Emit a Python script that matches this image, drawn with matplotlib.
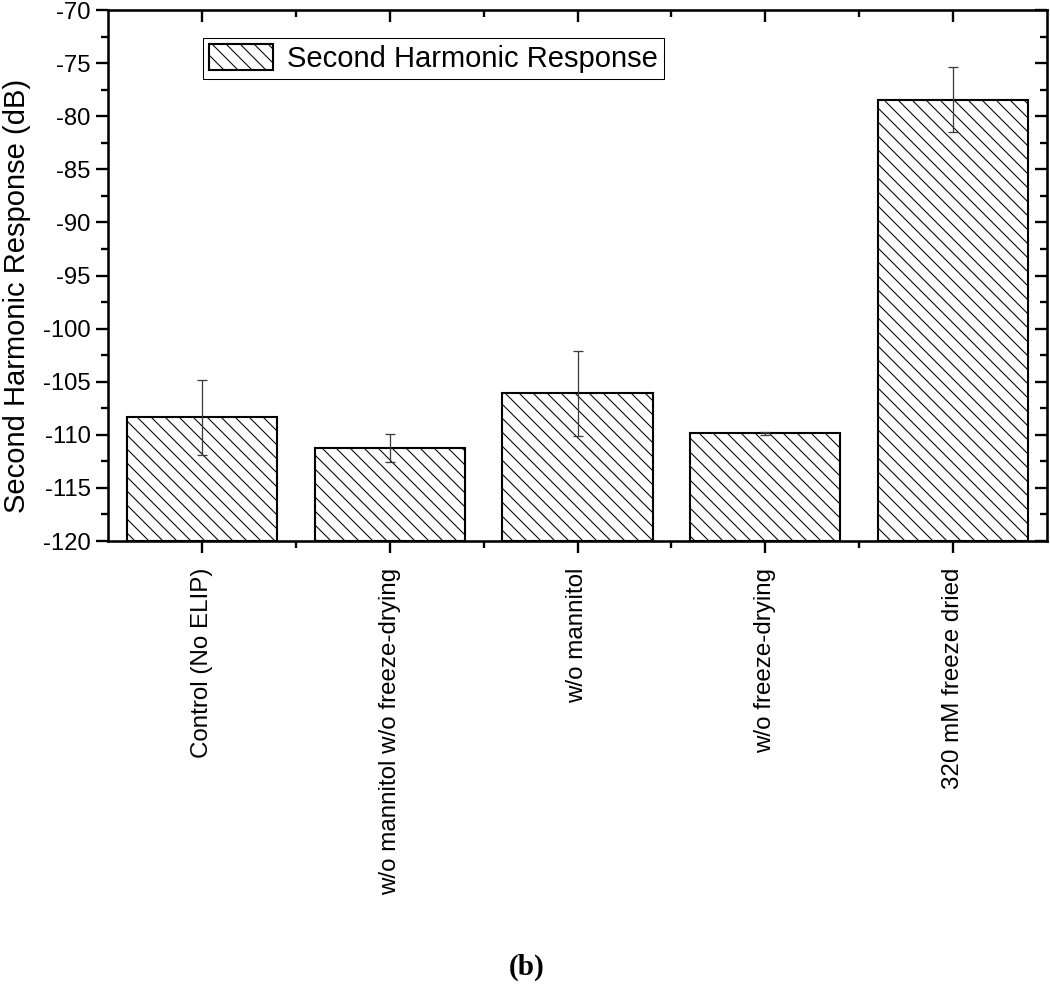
import matplotlib
matplotlib.use("Agg")
import matplotlib.pyplot as plt
from matplotlib.ticker import MultipleLocator, FixedLocator
import numpy as np

categories = ["Control (No ELIP)", "w/o mannitol w/o freeze-drying", "w/o mannitol",
              "w/o freeze-drying", "320 mM freeze dried"]
values = [-108.35, -111.25, -106.1, -109.85, -78.45]
errors = [3.55, 1.3, 4.0, 0.15, 3.05]
series_name = "Second Harmonic Response"
ylabel = "Second Harmonic Response (dB)"
panel = "(b)"

DPI = 84
plt.rcParams['font.family'] = ['Liberation Sans', 'DejaVu Sans']
plt.rcParams['axes.unicode_minus'] = False
plt.rcParams['hatch.linewidth'] = 0.9
plt.rcParams['hatch.color'] = 'black'

fig = plt.figure(figsize=(1050 / DPI, 996 / DPI), dpi=DPI)
ax = fig.add_axes([108 / 1050, 1 - 541 / 996, 939 / 1050, 531 / 996])

x = np.arange(1, len(categories) + 1)
ax.bar(x, [v - (-120) for v in values], bottom=-120, width=0.8, color='white',
       edgecolor='black', linewidth=1.8, hatch='\\\\', label=series_name, zorder=2)
ax.errorbar(x, values, yerr=errors, fmt='none', ecolor='#3a3a3a', elinewidth=1.1,
            capsize=4.7, capthick=1.1, zorder=3)

ax.set_xlim(0.5, 5.5)
ax.set_ylim(-120, -70)
ax.yaxis.set_major_locator(MultipleLocator(5))
ax.yaxis.set_minor_locator(MultipleLocator(2.5))
ax.set_xticks(x)
ax.set_xticklabels(categories, rotation=90, fontsize=20.7, va='top')
ax.xaxis.set_minor_locator(FixedLocator(x[:-1] + 0.5))
ax.tick_params(axis='y', labelsize=20.5)

for s in ax.spines.values():
    s.set_linewidth(2.2)

ax.tick_params(which='major', length=10, width=2, direction='out', pad=5)
ax.tick_params(which='minor', length=6, width=2, direction='out')
ax.tick_params(axis='x', which='major', pad=13)
ax.tick_params(which='both', top=True, right=True)
# top and right ticks pointing inward
for t in ax.xaxis.get_major_ticks() + ax.xaxis.get_minor_ticks():
    t.tick2line.set_marker(matplotlib.lines.TICKDOWN)
for t in ax.yaxis.get_major_ticks() + ax.yaxis.get_minor_ticks():
    t.tick2line.set_marker(matplotlib.lines.TICKLEFT)

ax.set_ylabel(ylabel, fontsize=25)
ax.yaxis.set_label_coords(-0.082, 0.461)

leg = ax.legend(loc='upper left', bbox_to_anchor=(0.101, 0.948), borderaxespad=0,
                fontsize=25, fancybox=False, framealpha=1, edgecolor='black',
                handlelength=2.2, handleheight=1.0, handletextpad=0.45, borderpad=0.22)
leg.get_frame().set_linewidth(0.9)

fig.text(527 / 1050, 1 - 967 / 996, panel, ha='center', va='center',
         fontsize=25, fontweight='bold', family=['Liberation Serif', 'DejaVu Serif'])

fig.savefig("out.png", dpi=DPI)
